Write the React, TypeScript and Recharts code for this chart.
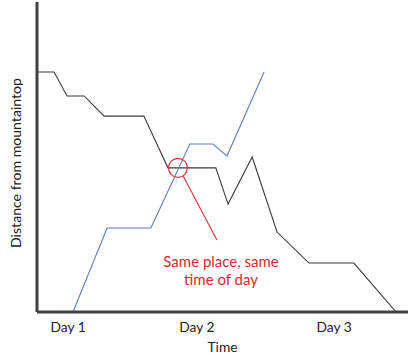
import React from 'react';
import { LineChart, Line, XAxis, YAxis, ReferenceDot, ReferenceLine } from 'recharts';

// time axis 0..100 (fraction of trip span), distance 0..100
const dayTicks = [8.4, 43.1, 80.1];
const dayLabels = ['Day 1', 'Day 2', 'Day 3'];

const descentTime = [0, 4.6, 8.1, 12.7, 18.1, 28.8, 35.3, 48.2, 51.5, 58.0, 64.7, 73.3, 85.4, 96.8];
const descentDist = [77.4, 77.4, 69.7, 69.7, 63.2, 63.2, 46.5, 46.5, 34.8, 50.0, 25.8, 15.8, 15.8, 0];

const ascentTime = [9.7, 18.9, 30.7, 41.2, 47.4, 51.2, 61.2];
const ascentDist = [0, 27.1, 27.1, 54.2, 54.2, 50.3, 77.4];

const meetPoint = { t: 38.0, d: 46.5 };
const pointerLine = [{ t: 39.4, d: 43.9 }, { t: 48.5, d: 23.2 }];
const noteAnchor = { t: 49.6, d: 16.1 };
const noteLines = ['Same place, same', 'time of day'];

const descent = descentTime.map((t, i) => ({ t, d: descentDist[i] }));
const ascent = ascentTime.map((t, i) => ({ t, d: ascentDist[i] }));

const FONT = 'Lato, "Open Sans", sans-serif';
const AXIS = '#404040';

const NoteLabel = (props: any) => {
  const { viewBox } = props;
  const cx = viewBox.x + (viewBox.width || 0) / 2;
  const cy = viewBox.y + (viewBox.height || 0) / 2;
  return (
    <text x={cx} y={cy} textAnchor="middle" fill="#d42a35" fontFamily={FONT} fontSize={15}>
      {noteLines.map((l, i) => (
        <tspan key={i} x={cx} dy={i === 0 ? 5 : 18}>{l}</tspan>
      ))}
    </text>
  );
};

const YLabel = (props: any) => {
  const { viewBox } = props;
  const cy = viewBox.y + viewBox.height / 2 + 6;
  return (
    <text x={15} y={cy} transform={`rotate(-90, 15, ${cy})`} textAnchor="middle" dominantBaseline="central"
      fill="#222" fontFamily={FONT} fontSize={14.1}>
      Distance from mountaintop
    </text>
  );
};

export default function App() {
  return (
    <div style={{ position: 'absolute', left: 0, top: 0, background: '#fff' }}>
      <LineChart width={412} height={357} margin={{ top: 2, right: 4, bottom: 0, left: 0 }}>
        <XAxis
          type="number"
          dataKey="t"
          domain={[0, 100]}
          ticks={dayTicks}
          tickFormatter={(v: number) => dayLabels[dayTicks.indexOf(v)]}
          tickLine={false}
          axisLine={{ stroke: AXIS, strokeWidth: 3 }}
          tick={{ fill: '#222', fontFamily: FONT, fontSize: 13.8, dy: 2 }}
          height={45}
          label={{ value: 'Time', position: 'insideBottom', offset: 5, fill: '#222', fontFamily: FONT, fontSize: 13.8 }}
          allowDataOverflow
        />
        <YAxis
          type="number"
          dataKey="d"
          domain={[0, 100]}
          width={37}
          tick={false}
          tickLine={false}
          axisLine={{ stroke: AXIS, strokeWidth: 3 }}
          label={<YLabel />}
          allowDataOverflow
        />
        <Line data={descent} dataKey="d" type="linear" stroke="#3a3a3a" strokeWidth={1.1} dot={false} isAnimationActive={false} />
        <Line data={ascent} dataKey="d" type="linear" stroke="#5b7ec2" strokeWidth={1.1} dot={false} isAnimationActive={false} />
        <ReferenceDot x={meetPoint.t} y={meetPoint.d} r={9.5} fill="none" stroke="#d8323c" strokeWidth={1.2} />
        <ReferenceLine segment={pointerLine.map(p => ({ x: p.t, y: p.d }))} stroke="#e03a44" strokeWidth={1.2} />
        <ReferenceDot x={noteAnchor.t} y={noteAnchor.d} r={0} fill="none" stroke="none" label={<NoteLabel />} />
      </LineChart>
    </div>
  );
}
